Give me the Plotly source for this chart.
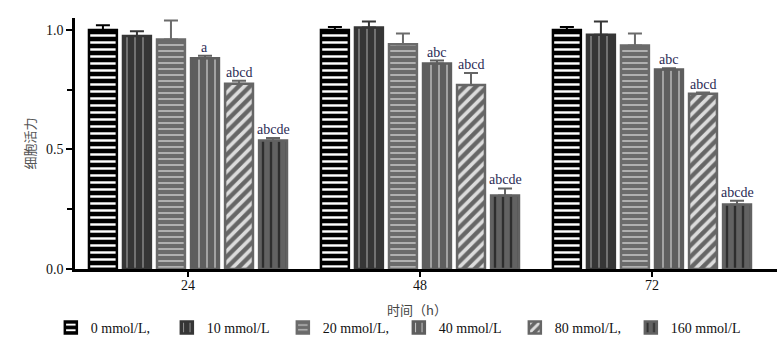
import plotly.graph_objects as go

times = ["24", "48", "72"]
series = ["0 mmol/L,", "10 mmol/L", "20 mmol/L,", "40 mmol/L", "80 mmol/L,", "160 mmol/L"]
values = [
    [1.00, 1.00, 1.00],
    [0.975, 1.01, 0.98],
    [0.96, 0.94, 0.935],
    [0.882, 0.86, 0.835],
    [0.775, 0.77, 0.733],
    [0.538, 0.307, 0.27],
]
errors = [
    [0.02, 0.012, 0.012],
    [0.02, 0.025, 0.055],
    [0.08, 0.045, 0.05],
    [0.01, 0.012, 0.005],
    [0.012, 0.05, 0.005],
    [0.01, 0.03, 0.015],
]
labels = [
    ["", "", ""],
    ["", "", ""],
    ["", "", ""],
    ["a", "abc", "abc"],
    ["abcd", "abcd", "abcd"],
    ["abcde", "abcde", "abcde"],
]

SERIF = "Liberation Serif, Times New Roman, serif"
bg = ["#000000", "#363636", "#6b6b6b", "#5e5e5e", "#666666", "#626262"]
fg = ["#ffffff", "#9a9a9a", "#c8c8c8", "#d0d0d0", "#dcdcdc", "#2e2e2e"]
shapes = ["-", "|", "-", "|", "/", "|"]
psize = [7, 8, 6, 8, 8, 8]
solid = [0.35, 0.15, 0.25, 0.15, 0.45, 0.3]

fig = go.Figure()
for i, name in enumerate(series):
    fig.add_trace(go.Bar(
        x=times, y=values[i], name=name,
        marker=dict(color=bg[i], line=dict(color=bg[i], width=2.5),
                    pattern=dict(shape=shapes[i], fgcolor=fg[i], bgcolor=bg[i],
                                 size=psize[i], solidity=solid[i], fillmode="replace")),
        error_y=dict(type="data", array=errors[i], arrayminus=[0] * 3, symmetric=False,
                     color=bg[i] if i > 0 else "#000000", thickness=2, width=7),
    ))

bargap = 0.12
n = len(series)
slot = (1 - bargap) / n
annotations = []
for i in range(n):
    for g in range(len(times)):
        if labels[i][g]:
            annotations.append(dict(
                x=g - (1 - bargap) / 2 + (i + 0.5) * slot,
                y=values[i][g] + errors[i][g], xref="x", yref="y",
                text=labels[i][g], showarrow=False, yanchor="bottom", yshift=-1,
                font=dict(family=SERIF, size=14, color="#2b2b55")))

annotations.append(dict(
    text="时间（h）", x=0.487, y=-0.163, xref="paper", yref="paper",
    showarrow=False, xanchor="center", yanchor="middle",
    font=dict(family="Noto Sans CJK SC", size=13, color="#444444")))

fig.update_layout(
    width=782, height=344,
    margin=dict(l=75, r=5, t=18, b=75, autoexpand=False),
    plot_bgcolor="white", paper_bgcolor="white",
    barmode="group", bargap=bargap, bargroupgap=0.18,
    showlegend=True,
    legend=dict(orientation="h", x=0.065, xref="container", xanchor="left",
                y=0.047, yref="container", yanchor="middle",
                entrywidth=71, entrywidthmode="pixels",
                font=dict(family=SERIF, size=14, color="#111111"),
                itemwidth=30, tracegroupgap=0),
    annotations=annotations,
    font=dict(family=SERIF, size=14, color="#111111"),
)
fig.update_xaxes(
    type="category", range=[-0.487, 2.539],
    showline=True, linecolor="#000000", linewidth=2.5,
    ticks="outside", ticklen=5, tickwidth=2, tickcolor="#000000", ticklabelstandoff=-4,
    tickfont=dict(family=SERIF, size=14, color="#111111"),
)
fig.update_yaxes(
    range=[0, 1.05], tickvals=[0, 0.5, 1.0], ticktext=["0.0", "0.5", "1.0"],
    showline=True, linecolor="#000000", linewidth=2.5, showgrid=False, zeroline=False,
    ticks="outside", ticklen=6, tickwidth=2, tickcolor="#000000",
    minor=dict(tickvals=[0.25, 0.75], ticks="outside", ticklen=5, tickwidth=2, tickcolor="#000000"),
    tickfont=dict(family=SERIF, size=14, color="#111111"),
    title=dict(text="细胞活力", font=dict(family="Noto Sans CJK SC", size=13, color="#555555"), standoff=8),
)
fig.write_html("out.html")
